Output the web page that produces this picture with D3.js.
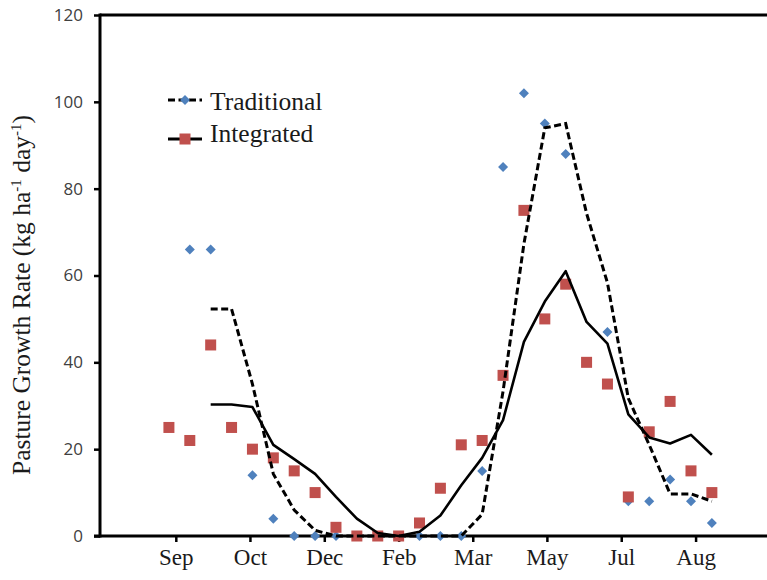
<!DOCTYPE html>
<html>
<head>
<meta charset="utf-8">
<script src="https://cdn.jsdelivr.net/npm/d3@7"></script>
<style>
  body { margin: 0; background: #fff; }
  svg { display: block; }
</style>
</head>
<body>
<svg id="chart" width="767" height="580"></svg>
<script>
// sample index (0..26) for each observation
var samples = d3.range(27);

// Traditional (diamonds), values at samples 0 and 3 sit under the squares
var traditional = [25, 66, 66, 25, 14, 4, 0, 0, 0, 0, 0, 0, 0, 0, 0, 15, 85, 102, 95, 88, 40, 47, 8, 8, 13, 8, 3];
// Integrated (squares)
var integrated = [25, 22, 44, 25, 20, 18, 15, 10, 2, 0, 0, 0, 3, 11, 21, 22, 37, 75, 50, 58, 40, 35, 9, 24, 31, 15, 10];

// trend lines (start at sample 2)
var tradTrend = [null, null, 52.3, 52.3, 35, 14.3, 6, 1.3, 0, 0, 0, 0, 0, 0, 0, 5, 33.3, 67.3, 94, 95, 74.3, 58.3, 31.7, 21, 9.7, 9.7, 8];
var integTrend = [null, null, 30.3, 30.3, 29.7, 21, 17.7, 14.3, 9, 4, 0.7, 0, 1, 4.7, 11.7, 18, 26.7, 44.7, 54, 61, 49.3, 44.3, 28, 22.7, 21.3, 23.3, 18.7];

// month labels and where they fall on the sample axis
var monthLabels = ["Sep", "Oct", "Dec", "Feb", "Mar", "May", "Jul", "Aug"];
var monthPos = [0.33, 3.88, 7.44, 11.0, 14.55, 18.1, 21.66, 25.22];

var yTicks = [0, 20, 40, 60, 80, 100, 120];

var svg = d3.select("#chart");
var margin = {left: 100, top: 15, right: 0, bottom: 44};
var width = 767, height = 580;

var x = d3.scaleLinear().domain([-3.3, 28.64]).range([margin.left, width - margin.right]);
var y = d3.scaleLinear().domain([0, 120]).range([height - margin.bottom, margin.top]);

var serif = "'Liberation Serif', 'Times New Roman', serif";

// top frame line
svg.append("line")
  .attr("x1", margin.left).attr("x2", width)
  .attr("y1", y(120)).attr("y2", y(120))
  .attr("stroke", "#000").attr("stroke-width", 3);

// y axis
var yAxis = d3.axisLeft(y).tickValues(yTicks).tickSize(6).tickPadding(11);
var gy = svg.append("g")
  .attr("transform", "translate(" + margin.left + ",0)")
  .call(yAxis);
gy.select(".domain").attr("stroke-width", 3).attr("d", "M0," + (y(0) + 1.5) + "V" + (y(120) - 1.5));
gy.selectAll(".tick line").attr("stroke-width", 2.5);
gy.selectAll(".tick text")
  .style("font-family", "'Open Sans', sans-serif")
  .style("font-size", "17px")
  .attr("fill", "#404040");

// x axis
var xAxis = d3.axisBottom(x).tickValues(monthPos)
  .tickFormat(function(d, i) { return monthLabels[i]; })
  .tickSize(6).tickPadding(7);
var gx = svg.append("g")
  .attr("transform", "translate(0," + y(0) + ")")
  .call(xAxis);
gx.select(".domain").attr("stroke-width", 3).attr("d", "M" + (margin.left - 6) + ",0H" + width);
gx.selectAll(".tick line").attr("stroke-width", 2.5);
gx.selectAll(".tick text")
  .style("font-family", serif)
  .style("font-size", "23px")
  .attr("fill", "#1a1a1a");

// y title
var title = svg.append("text")
  .attr("transform", "translate(30,295)rotate(-90)")
  .attr("text-anchor", "middle")
  .style("font-family", serif)
  .style("font-size", "25.5px")
  .attr("fill", "#1a1a1a");
title.append("tspan").text("Pasture Growth Rate (kg ha");
title.append("tspan").attr("dy", -9).style("font-size", "15px").text("-1");
title.append("tspan").attr("dy", 9).text(" day");
title.append("tspan").attr("dy", -9).style("font-size", "15px").text("-1");
title.append("tspan").attr("dy", 9).text(")");

var blue = "#4F81BD", red = "#C0504D";
// square turned on its corner
var diamond = "M0,-5L5,0L0,5L-5,0Z";

// markers: traditional first, integrated on top
svg.append("g").selectAll("path").data(samples).enter()
  .append("path")
  .attr("d", diamond)
  .attr("transform", function(i) { return "translate(" + x(i) + "," + y(traditional[i]) + ")"; })
  .attr("fill", blue);

svg.append("g").selectAll("rect").data(samples).enter()
  .append("rect")
  .attr("x", function(i) { return x(i) - 5.5; })
  .attr("y", function(i) { return y(integrated[i]) - 5.5; })
  .attr("width", 11).attr("height", 11)
  .attr("fill", red);

// trend lines
var line = function(vals) {
  return d3.line()
    .defined(function(i) { return vals[i] != null; })
    .x(function(i) { return x(i); })
    .y(function(i) { return y(vals[i]); })(samples);
};

svg.append("path")
  .attr("d", line(integTrend))
  .attr("fill", "none").attr("stroke", "#000").attr("stroke-width", 2.6)
  .attr("stroke-linejoin", "round");

svg.append("path")
  .attr("d", line(tradTrend))
  .attr("fill", "none").attr("stroke", "#000").attr("stroke-width", 3)
  .attr("stroke-dasharray", "7,3.5");

// legend
var legend = svg.append("g").attr("transform", "translate(168,0)");
legend.append("line").attr("x1", 0).attr("x2", 34).attr("y1", 100).attr("y2", 100)
  .attr("stroke", "#000").attr("stroke-width", 3).attr("stroke-dasharray", "7,3.5");
legend.append("path").attr("d", diamond).attr("transform", "translate(17,100)").attr("fill", blue);
legend.append("text").attr("x", 42).attr("y", 110).text("Traditional")
  .style("font-family", serif).style("font-size", "25.5px").attr("fill", "#1a1a1a");

legend.append("line").attr("x1", 0).attr("x2", 34).attr("y1", 139).attr("y2", 139)
  .attr("stroke", "#000").attr("stroke-width", 3);
legend.append("rect").attr("x", 11.5).attr("y", 133.5).attr("width", 11).attr("height", 11).attr("fill", red);
legend.append("text").attr("x", 42).attr("y", 142).text("Integrated")
  .style("font-family", serif).style("font-size", "25.5px").attr("fill", "#1a1a1a");
</script>
</body>
</html>
